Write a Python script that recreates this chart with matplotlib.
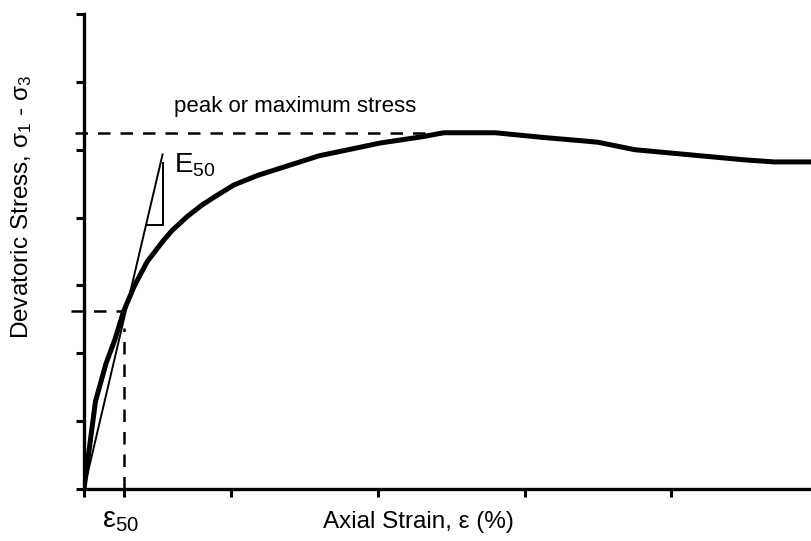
import matplotlib.pyplot as plt

plt.rcParams['font.family'] = ['Liberation Sans', 'DejaVu Sans']
plt.rcParams['mathtext.fontset'] = 'custom'
plt.rcParams['mathtext.rm'] = 'Liberation Sans'
plt.rcParams['mathtext.it'] = 'Liberation Sans:italic'

# stress-strain curve (strain in %, stress in arbitrary units)
strain = [0, 0.078, 0.15, 0.21, 0.27, 0.34, 0.43, 0.54, 0.60, 0.70, 0.80, 0.90,
          1.02, 1.18, 1.34, 1.60, 2.02, 2.30, 2.45, 2.80, 3.13, 3.40, 3.50,
          3.75, 4.50, 4.70, 4.95]
stress = [0, 1.29, 1.85, 2.20, 2.62, 2.98, 3.35, 3.66, 3.81, 4.01, 4.18, 4.32,
          4.48, 4.62, 4.73, 4.91, 5.10, 5.19, 5.25, 5.25, 5.18, 5.13, 5.11,
          5.00, 4.85, 4.82, 4.82]

peak_stress = 5.25
eps50 = 0.27
half_stress = peak_stress / 2
# secant modulus line E50
secant_x = [0.0, 0.535]
secant_y = [0.0, 4.93]

W, H = 811, 541
fig = plt.figure(figsize=(W / 100, H / 100), dpi=100)
ax = fig.add_axes([84 / W, (H - 489) / H, (W - 84) / W, (489 - 14) / H])

ax.plot(strain, stress, color='black', lw=3.6, solid_joinstyle='round', zorder=3)
ax.plot(secant_x, secant_y, color='black', lw=1.4, zorder=2)

# slope triangle
x_tri = 0.539
y_lo, y_hi = 3.89, 4.80
ax.plot([y_lo / (secant_y[1] / secant_x[1]), x_tri, x_tri], [y_lo, y_lo, y_hi],
        color='black', lw=1.4)

dash = dict(color='black', lw=1.8, ls=(0, (5, 4)), clip_on=False)
ax.plot([-0.06, 2.40], [peak_stress, peak_stress], **dash)
ax.plot([-0.09, eps50], [half_stress, half_stress], **dash)
ax.plot([eps50, eps50], [0, 2.38], **dash)

ax.set_xlim(0, 4.95)
ax.set_ylim(0, 7)
ax.set_xticks([0, eps50, 1, 2, 3, 4])
ax.set_yticks(range(8))
ax.set_xticklabels([])
ax.set_yticklabels([])
ax.tick_params(length=6, width=2.2, direction='out')
for s in ['top', 'right']:
    ax.spines[s].set_visible(False)
for s in ['left', 'bottom']:
    ax.spines[s].set_linewidth(2.4)

ax.text(0.61, 4.77, r'E$_{50}$', fontsize=20, va='center', ha='left')
ax.text(0.61, 5.63, 'peak or maximum stress', fontsize=16, va='center', ha='left')

fig.text(121 / W, 1 - 520 / H, '\u03b5$_{50}$', fontsize=21, ha='center', va='center')
fig.text(418 / W, 1 - 522 / H, 'Axial Strain, \u03b5 (%)', fontsize=17.5,
         ha='center', va='center')
fig.text(22 / W, 1 - 207 / H, 'Devatoric Stress, \u03c3$_1$ - \u03c3$_3$',
         fontsize=17.5, rotation=90, ha='center', va='center')

fig.savefig('out.png', dpi=100)
